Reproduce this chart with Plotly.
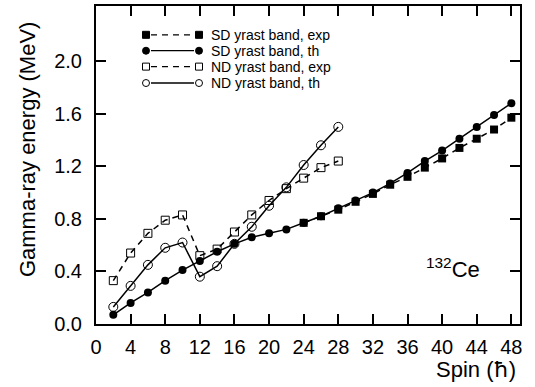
import plotly.graph_objects as go

# ---- data ----
spin_nd = [2, 4, 6, 8, 10, 12, 14, 16, 18, 20, 22, 24, 26, 28]
nd_exp = [0.33, 0.54, 0.69, 0.79, 0.83, 0.52, 0.57, 0.70, 0.83, 0.94, 1.03, 1.11, 1.19, 1.24]
nd_th = [0.13, 0.29, 0.45, 0.58, 0.62, 0.36, 0.44, 0.61, 0.74, 0.90, 1.04, 1.21, 1.36, 1.50]

spin_sd_th = [2, 4, 6, 8, 10, 12, 14, 16, 18, 20, 22, 24, 26, 28, 30, 32, 34, 36, 38, 40, 42, 44, 46, 48]
sd_th = [0.07, 0.16, 0.24, 0.33, 0.41, 0.48, 0.55, 0.61, 0.66, 0.69, 0.72, 0.77, 0.82, 0.88,
         0.94, 1.00, 1.07, 1.15, 1.24, 1.32, 1.41, 1.50, 1.59, 1.68]

spin_sd_exp = [24, 26, 28, 30, 32, 34, 36, 38, 40, 42, 44, 46, 48]
sd_exp = [0.77, 0.82, 0.87, 0.93, 0.99, 1.06, 1.12, 1.19, 1.26, 1.34, 1.41, 1.48, 1.57]

x_ticks = list(range(0, 49, 4))
y_ticks = [0.0, 0.4, 0.8, 1.2, 1.6, 2.0]
y_tick_text = ["0.0", "0.4", "0.8", "1.2", "1.6", "2.0"]

legend_labels = ["SD yrast band, exp", "SD yrast band, th", "ND yrast band, exp", "ND yrast band, th"]

FONT = "Liberation Sans, Arial, Helvetica, sans-serif"
BLACK = "black"

fig = go.Figure()

fig.add_trace(go.Scatter(
    x=spin_sd_th, y=sd_th, mode="lines+markers",
    line=dict(color=BLACK, width=1.5),
    marker=dict(symbol="circle", size=8, color=BLACK),
    showlegend=False))
fig.add_trace(go.Scatter(
    x=spin_nd, y=nd_th, mode="lines+markers",
    line=dict(color=BLACK, width=1.5),
    marker=dict(symbol="circle-open", size=9, color=BLACK, line=dict(width=1)),
    showlegend=False))
fig.add_trace(go.Scatter(
    x=spin_nd, y=nd_exp, mode="lines+markers",
    line=dict(color=BLACK, width=1.5, dash="6px,5px"),
    marker=dict(symbol="square-open", size=8, color=BLACK, line=dict(width=1)),
    showlegend=False))
fig.add_trace(go.Scatter(
    x=spin_sd_exp, y=sd_exp, mode="lines+markers",
    line=dict(color=BLACK, width=1.5, dash="6px,5px"),
    marker=dict(symbol="square", size=8, color=BLACK),
    showlegend=False))

# ---- manual legend (marker - line - marker) ----
L, T, W, H = 96, 4, 424, 320
def px(xp):
    return (xp - L) / W
def py(yp):
    return (T + H - yp) / H

rows_y = [33, 49, 65, 81.5]
styles = [("square", True, "dash"), ("circle", True, "solid"),
          ("square", False, "dash"), ("circle", False, "solid")]
shapes = []
annotations = []
for (sym, filled, dash), ry, lab in zip(styles, rows_y, legend_labels):
    shapes.append(dict(type="line", xref="paper", yref="paper",
                       x0=px(151), x1=px(194), y0=py(ry), y1=py(ry),
                       line=dict(color=BLACK, width=1.3,
                                 dash="6px,5px" if dash == "dash" else "solid")))
    for cx in (146, 199):
        shapes.append(dict(type="rect" if sym == "square" else "circle",
                           xref="paper", yref="paper",
                           xsizemode="pixel", ysizemode="pixel",
                           xanchor=px(cx), yanchor=py(ry),
                           x0=-3.5, x1=3.5, y0=-3.5, y1=3.5,
                           fillcolor=BLACK if filled else "white",
                           line=dict(color=BLACK, width=1)))
    annotations.append(dict(xref="paper", yref="paper", x=px(209), y=py(ry),
                            xanchor="left", yanchor="middle", showarrow=False,
                            text=lab, font=dict(family=FONT, size=14, color=BLACK)))

annotations.append(dict(xref="paper", yref="paper", x=px(27), y=py(148),
                        xanchor="center", yanchor="middle", showarrow=False,
                        textangle=-90, text="Gamma-ray energy (MeV)",
                        font=dict(family=FONT, size=22, color=BLACK)))
annotations.append(dict(xref="paper", yref="paper", x=px(518), y=py(370),
                        xanchor="right", yanchor="middle", showarrow=False,
                        text="Spin (<span style='font-family:DejaVu Sans'>ħ</span>)",
                        font=dict(family=FONT, size=22, color=BLACK)))
annotations.append(dict(xref="paper", yref="paper", x=px(424), y=py(268),
                        xanchor="left", yanchor="middle", showarrow=False,
                        text="<sup>132</sup>Ce",
                        font=dict(family=FONT, size=22, color=BLACK)))

axis_common = dict(showline=True, linecolor=BLACK, linewidth=2, mirror="ticks",
                   ticks="inside", ticklen=10, tickwidth=1.5, tickcolor=BLACK,
                   showgrid=False, zeroline=False,
                   tickfont=dict(family=FONT, size=20, color=BLACK))

fig.update_layout(
    width=535, height=387,
    margin=dict(l=L, r=535 - L - W, t=T, b=387 - T - H),
    paper_bgcolor="white", plot_bgcolor="white",
    xaxis=dict(range=[0, 49], tickvals=x_ticks, ticklabelstandoff=4, **axis_common),
    yaxis=dict(range=[0, 2.42], tickvals=y_ticks, ticktext=y_tick_text,
               ticklabelstandoff=8, **axis_common),
    shapes=shapes, annotations=annotations,
    font=dict(family=FONT, color=BLACK),
)

fig.write_html("out.html", config={"displayModeBar": False},
               post_script="document.body.style.margin='0';document.body.style.padding='0';")
